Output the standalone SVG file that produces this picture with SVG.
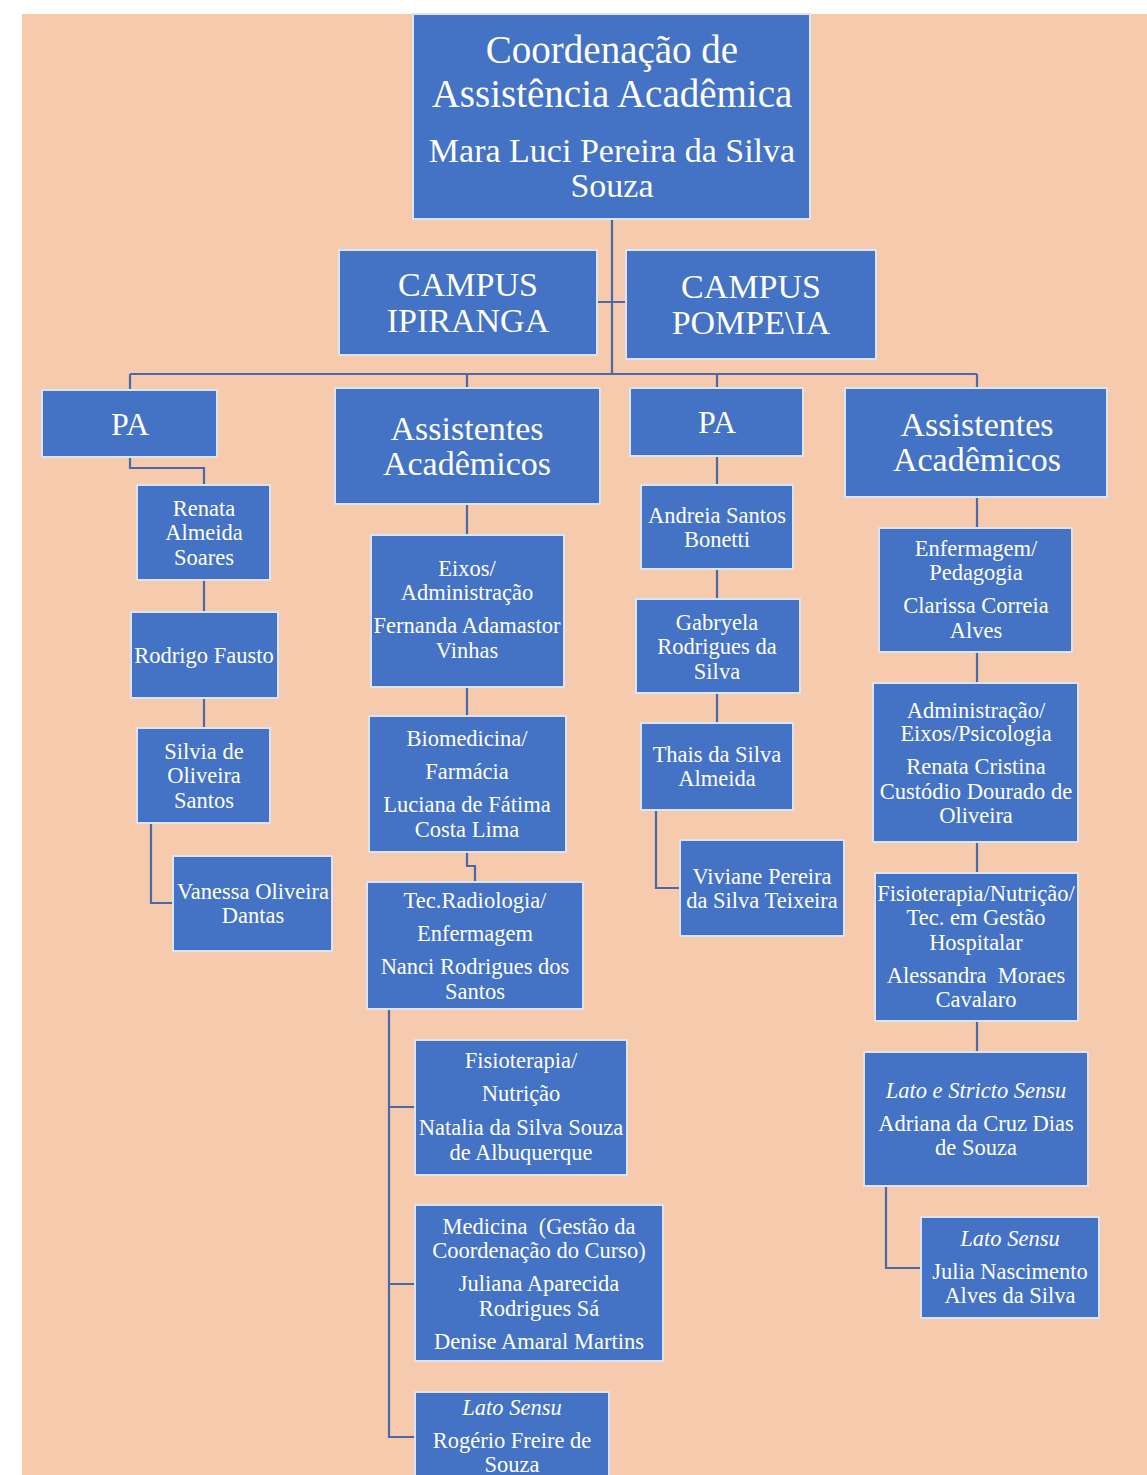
<svg xmlns="http://www.w3.org/2000/svg" width="1147" height="1475" viewBox="0 0 1147 1475">
<style>
.b{fill:#4472C4;stroke:#DCE4F2;stroke-width:2}
text{fill:#fff;font-family:'Liberation Serif','Times New Roman',Times,serif;text-anchor:middle;font-size:22.5px}
.L{font-size:39px}.M{font-size:34px}.C{font-size:34px}.P{font-size:32px}
.i{font-style:italic}
.c{fill:none;stroke:#4A69A6;stroke-width:2.2}
</style>
<rect x="0" y="0" width="1147" height="1475" fill="#fff"/>
<rect x="22" y="14" width="1125" height="1461" fill="#F6CAAC"/>
<g id="connectors">
<path class="c" d="M612 219V374M597 302H626M130 374H977M130 374V390M467 374V388M717 374V388M977 374V388"/>
<path class="c" d="M130 457V468H204V485M204 580V612M204 698V728M151 823V903H173"/>
<path class="c" d="M467 504V535M467 687V716M467 852V866H475V882M389 1009V1437H415M389 1107H415M389 1284H415"/>
<path class="c" d="M717 456V485M717 569V599M717 693V723M656 810V888H680"/>
<path class="c" d="M977 497V528M977 652V683M977 842V873M977 1021V1052M886 1186V1268H921"/>
</g>
<g id="top"><rect class="b" x="413" y="14" width="397" height="205"/>
<text class="L" x="612" y="63" font-family="Liberation Serif">Coordenação de</text><text class="L" x="612" y="107">Assistência Acadêmica</text>
<text class="M" x="612" y="162">Mara Luci Pereira da Silva</text><text class="M" x="612" y="197">Souza</text></g>
<g id="ipiranga"><rect class="b" x="339" y="250" width="258" height="105"/>
<text class="C" x="468" y="296">CAMPUS</text><text class="C" x="468" y="332">IPIRANGA</text></g>
<g id="pompeia"><rect class="b" x="626" y="250" width="250" height="109"/>
<text class="C" x="751" y="298">CAMPUS</text><text class="C" x="751" y="334">POMPE\IA</text></g>
<g id="pa1"><rect class="b" x="42" y="390" width="175" height="67"/><text class="P" x="130" y="435">PA</text></g>
<g id="aa1"><rect class="b" x="335" y="388" width="265" height="116"/>
<text class="C" x="467" y="440">Assistentes</text><text class="C" x="467" y="475">Acadêmicos</text></g>
<g id="pa2"><rect class="b" x="630" y="388" width="173" height="68"/><text class="P" x="717" y="433">PA</text></g>
<g id="aa2"><rect class="b" x="845" y="388" width="262" height="109"/>
<text class="C" x="977" y="436">Assistentes</text><text class="C" x="977" y="471">Acadêmicos</text></g>

<g id="renata"><rect class="b" x="137" y="485" width="133" height="95"/>
<text x="204" y="516">Renata</text><text x="204" y="540">Almeida</text><text x="204" y="565">Soares</text></g>
<g id="rodrigo"><rect class="b" x="131" y="612" width="147" height="86"/><text x="204" y="663">Rodrigo Fausto</text></g>
<g id="silvia"><rect class="b" x="137" y="728" width="133" height="95"/>
<text x="204" y="759">Silvia de</text><text x="204" y="783">Oliveira</text><text x="204" y="808">Santos</text></g>
<g id="vanessa"><rect class="b" x="173" y="856" width="159" height="95"/>
<text x="253" y="899">Vanessa Oliveira</text><text x="253" y="923">Dantas</text></g>

<g id="eixos"><rect class="b" x="371" y="535" width="193" height="152"/>
<text x="467" y="576">Eixos/</text><text x="467" y="600">Administração</text>
<text x="467" y="633">Fernanda Adamastor</text><text x="467" y="658">Vinhas</text></g>
<g id="biomed"><rect class="b" x="369" y="716" width="197" height="136"/>
<text x="467" y="746">Biomedicina/</text><text x="467" y="779">Farmácia</text>
<text x="467" y="812">Luciana de Fátima</text><text x="467" y="837">Costa Lima</text></g>
<g id="tecrad"><rect class="b" x="367" y="882" width="216" height="127"/>
<text x="475" y="908">Tec.Radiologia/</text><text x="475" y="941">Enfermagem</text>
<text x="475" y="974">Nanci Rodrigues dos</text><text x="475" y="999">Santos</text></g>
<g id="fisio1"><rect class="b" x="415" y="1040" width="212" height="135"/>
<text x="521" y="1068">Fisioterapia/</text><text x="521" y="1101">Nutrição</text>
<text x="521" y="1135">Natalia da Silva Souza</text><text x="521" y="1160">de Albuquerque</text></g>
<g id="medicina"><rect class="b" x="415" y="1205" width="248" height="156"/>
<text x="539" y="1234" xml:space="preserve">Medicina  (Gestão da</text><text x="539" y="1258">Coordenação do Curso)</text>
<text x="539" y="1291">Juliana Aparecida</text><text x="539" y="1316">Rodrigues Sá</text>
<text x="539" y="1349">Denise Amaral Martins</text></g>
<g id="lato1"><rect class="b" x="415" y="1392" width="194" height="90"/>
<text class="i" x="512" y="1415">Lato Sensu</text><text x="512" y="1448">Rogério Freire de</text><text x="512" y="1472">Souza</text></g>

<g id="andreia"><rect class="b" x="641" y="485" width="152" height="84"/>
<text x="717" y="523">Andreia Santos</text><text x="717" y="547">Bonetti</text></g>
<g id="gabryela"><rect class="b" x="636" y="599" width="164" height="94"/>
<text x="717" y="630">Gabryela</text><text x="717" y="654">Rodrigues da</text><text x="717" y="679">Silva</text></g>
<g id="thais"><rect class="b" x="641" y="723" width="152" height="87"/>
<text x="717" y="762">Thais da Silva</text><text x="717" y="786">Almeida</text></g>
<g id="viviane"><rect class="b" x="680" y="840" width="164" height="96"/>
<text x="762" y="884">Viviane Pereira</text><text x="762" y="908">da Silva Teixeira</text></g>

<g id="enf"><rect class="b" x="879" y="528" width="193" height="124"/>
<text x="976" y="556">Enfermagem/</text><text x="976" y="580">Pedagogia</text>
<text x="976" y="613">Clarissa Correia</text><text x="976" y="638">Alves</text></g>
<g id="adm"><rect class="b" x="873" y="683" width="205" height="159"/>
<text x="976" y="718">Administração/</text><text x="976" y="741">Eixos/Psicologia</text>
<text x="976" y="774">Renata Cristina</text><text x="976" y="799">Custódio Dourado de</text><text x="976" y="823">Oliveira</text></g>
<g id="fisio2"><rect class="b" x="875" y="873" width="203" height="148"/>
<text x="976" y="901">Fisioterapia/Nutrição/</text><text x="976" y="925">Tec. em Gestão</text>
<text x="976" y="950">Hospitalar</text><text x="976" y="983" xml:space="preserve">Alessandra  Moraes</text><text x="976" y="1007">Cavalaro</text></g>
<g id="stricto"><rect class="b" x="864" y="1052" width="224" height="134"/>
<text class="i" x="976" y="1098">Lato e Stricto Sensu</text><text x="976" y="1131">Adriana da Cruz Dias</text><text x="976" y="1155">de Souza</text></g>
<g id="lato2"><rect class="b" x="921" y="1217" width="178" height="101"/>
<text class="i" x="1010" y="1246">Lato Sensu</text><text x="1010" y="1279">Julia Nascimento</text><text x="1010" y="1303">Alves da Silva</text></g>
</svg>
